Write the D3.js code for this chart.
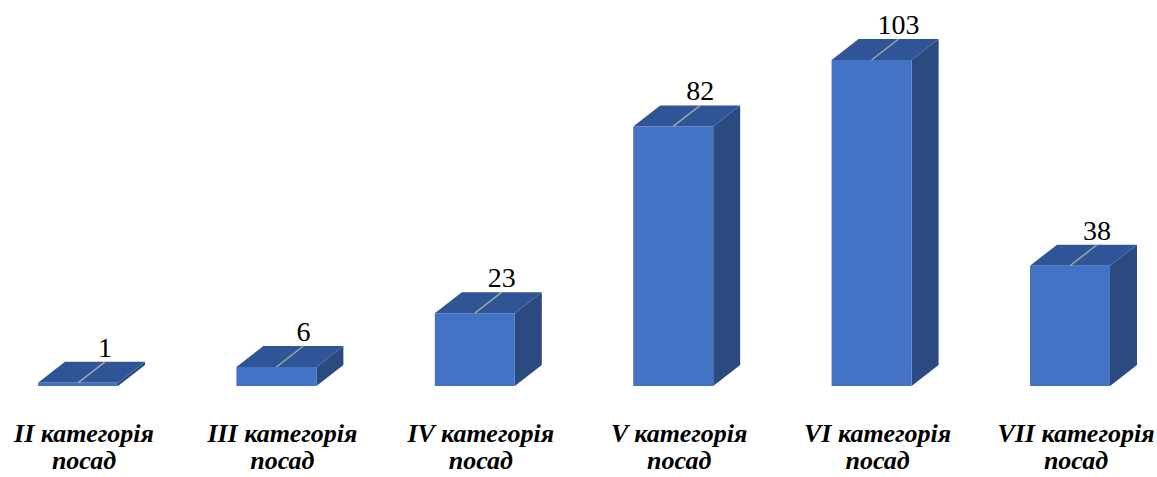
<!DOCTYPE html>
<html>
<head>
<meta charset="utf-8">
<script src="https://cdn.jsdelivr.net/npm/d3@7"></script>
</head>
<body style="margin:0">
<script>
const categories = ['II категорія', 'III категорія', 'IV категорія', 'V категорія', 'VI категорія', 'VII категорія'];
const subLabel = 'посад';
const values = [1, 6, 23, 82, 103, 38];

const width = 1157;
const height = 477;
const barWidth = 80;
const depthX = 27;
const depthY = 21;
const baseY = 386;
const serif = 'Liberation Serif';

const svg = d3.select('body').append('svg')
    .attr('width', width)
    .attr('height', height)
    .style('display', 'block');

// centre of each bar's front face
const x = d3.scalePoint().domain(categories).range([78, 1070]);
const y = d3.scaleLinear().domain([0, 103]).range([baseY, 60]);

const bars = svg.append('g').selectAll('g')
  .data(categories.map((c, i) => ({cat: c, value: values[i]})))
  .enter().append('g');

// right side
bars.append('path')
  .attr('d', d => {
    const x1 = x(d.cat) + barWidth / 2;
    const yt = y(d.value);
    return `M${x1},${baseY}L${x1 + depthX},${baseY - depthY}L${x1 + depthX},${yt - depthY}L${x1},${yt}Z`;
  })
  .attr('fill', '#2b4a80');

// top
bars.append('path')
  .attr('d', d => {
    const x0 = x(d.cat) - barWidth / 2;
    const yt = y(d.value);
    return `M${x0},${yt}L${x0 + barWidth},${yt}L${x0 + barWidth + depthX},${yt - depthY}L${x0 + depthX},${yt - depthY}Z`;
  })
  .attr('fill', '#2f5596');

// front
bars.append('rect')
  .attr('x', d => x(d.cat) - barWidth / 2)
  .attr('y', d => y(d.value))
  .attr('width', barWidth)
  .attr('height', d => baseY - y(d.value))
  .attr('fill', '#4472c4');

// leader line across the top
bars.append('line')
  .attr('x1', d => x(d.cat))
  .attr('y1', d => y(d.value))
  .attr('x2', d => x(d.cat) + depthX)
  .attr('y2', d => y(d.value) - depthY)
  .attr('stroke', '#a5a5a5')
  .attr('stroke-width', 1.5);

svg.selectAll('text.value')
  .data(values)
  .enter().append('text')
  .attr('class', 'value')
  .attr('x', (d, i) => x(categories[i]) + depthX)
  .attr('y', d => y(d) - depthY - 5)
  .attr('text-anchor', 'middle')
  .attr('font-family', serif)
  .attr('font-size', 28)
  .text(d => d);

// category labels, two lines
svg.selectAll('text.cat')
  .data(categories)
  .enter().append('text')
  .attr('class', 'cat')
  .attr('x', d => x(d) + 6)
  .attr('y', 442)
  .attr('text-anchor', 'middle')
  .attr('font-family', serif)
  .attr('font-size', 26)
  .attr('font-weight', 'bold')
  .attr('font-style', 'italic')
  .text(d => d);

svg.selectAll('text.sub')
  .data(categories)
  .enter().append('text')
  .attr('class', 'sub')
  .attr('x', d => x(d) + 6)
  .attr('y', 469)
  .attr('text-anchor', 'middle')
  .attr('font-family', serif)
  .attr('font-size', 26)
  .attr('font-weight', 'bold')
  .attr('font-style', 'italic')
  .text(subLabel);
</script>
</body>
</html>
